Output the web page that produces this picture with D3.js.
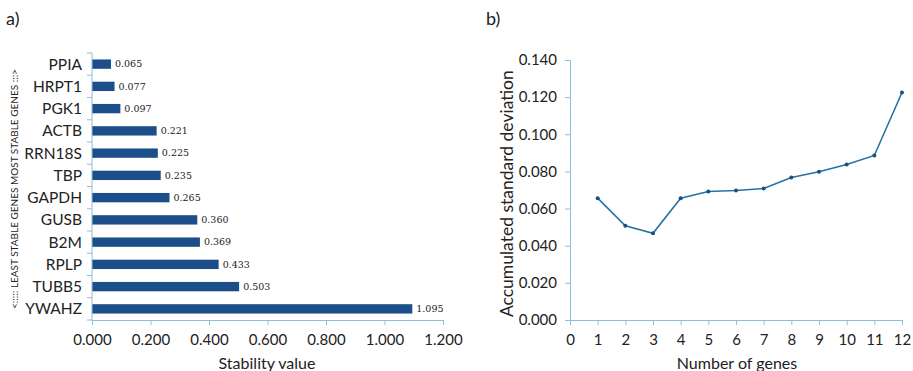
<!DOCTYPE html>
<html>
<head>
<meta charset="utf-8">
<script src="https://cdn.jsdelivr.net/npm/d3@7"></script>
<style>
  body { margin: 0; background: #fff; }
  svg { display: block; }
  text { font-family: Lato, "Open Sans", sans-serif; fill: #222; }
</style>
</head>
<body>
<div id="chart"></div>
<script>
// panel a) stability values, most stable on top
const genes = ["PPIA", "HRPT1", "PGK1", "ACTB", "RRN18S", "TBP", "GAPDH", "GUSB", "B2M", "RPLP", "TUBB5", "YWAHZ"];
const stability = [0.065, 0.077, 0.097, 0.221, 0.225, 0.235, 0.265, 0.360, 0.369, 0.433, 0.503, 1.095];
const stabTicks = [0, 0.2, 0.4, 0.6, 0.8, 1.0, 1.2];

// panel b) accumulated standard deviation
const nGenes = [1, 2, 3, 4, 5, 6, 7, 8, 9, 10, 11, 12];
const accSD = [0.0656, 0.0507, 0.0467, 0.0656, 0.0692, 0.0697, 0.0708, 0.0767, 0.0798, 0.0837, 0.0886, 0.1225];
const sdTicks = [0, 0.02, 0.04, 0.06, 0.08, 0.10, 0.12, 0.14];
const geneTicks = d3.range(0, 13);

const W = 913, H = 371;
const barColor = "#1c4f8a", axisColor = "#8cbfdc", lineColor = "#2672a6";
const tickFont = "15px";

const svg = d3.select("#chart").append("svg")
  .attr("width", W).attr("height", H);

// ---- panel a
const xa = d3.scaleLinear().domain([0, 1.2]).range([92, 443]);
const ya = d3.scaleBand().domain(genes).range([53, 320]).paddingInner(0.58).paddingOuter(0.29);

const ga = svg.append("g");
ga.append("text").attr("x", 6).attr("y", 25).style("font-size", "18px").text("a)");

ga.selectAll("rect.bar")
  .data(genes)
  .join("rect")
  .attr("class", "bar")
  .attr("x", xa(0))
  .attr("y", g => ya(g))
  .attr("width", (g, i) => xa(stability[i]) - xa(0))
  .attr("height", ya.bandwidth())
  .attr("fill", barColor);

ga.selectAll("text.val")
  .data(genes)
  .join("text")
  .attr("class", "val")
  .attr("x", (g, i) => xa(stability[i]) + 4)
  .attr("y", g => ya(g) + ya.bandwidth() / 2)
  .attr("dy", "0.35em")
  .style("font-family", "'DejaVu Serif', serif")
  .style("font-size", "9.5px")
  .text((g, i) => stability[i].toFixed(3));

// y axis of panel a
const yAxisA = ga.append("g").attr("transform", `translate(${xa(0)},0)`);
yAxisA.append("line").attr("y1", 53).attr("y2", 320).attr("stroke", axisColor);
yAxisA.selectAll("line.t")
  .data(d3.range(0, genes.length + 1))
  .join("line")
  .attr("class", "t")
  .attr("x1", -5).attr("x2", 0)
  .attr("y1", i => 53 + i * (267 / genes.length))
  .attr("y2", i => 53 + i * (267 / genes.length))
  .attr("stroke", axisColor);
yAxisA.selectAll("text.g")
  .data(genes)
  .join("text")
  .attr("class", "g")
  .attr("x", -10)
  .attr("y", g => ya(g) + ya.bandwidth() / 2)
  .attr("dy", "0.36em")
  .attr("text-anchor", "end")
  .style("font-size", "15.5px")
  .text(g => g);

// x axis of panel a
const xAxisA = ga.append("g").attr("transform", "translate(0,320)")
  .call(d3.axisBottom(xa).tickValues(stabTicks).tickFormat(d3.format(".3f")).tickSizeOuter(0).tickSize(5));
xAxisA.select(".domain").attr("stroke", axisColor);
xAxisA.selectAll(".tick line").attr("stroke", axisColor);
xAxisA.selectAll(".tick text").attr("y", 14).style("font-size", tickFont).style("font-family", "Lato, sans-serif").attr("fill", "#222");
ga.append("text").attr("x", 267).attr("y", 369).attr("text-anchor", "middle")
  .style("font-size", "16px").text("Stability value");

ga.append("text")
  .attr("transform", "translate(18,189) rotate(-90)")
  .attr("text-anchor", "middle")
  .style("font-size", "10px")
  .text("<::::: LEAST STABLE GENES MOST STABLE GENES :::>");

// ---- panel b
const xb = d3.scaleLinear().domain([0, 12]).range([570, 902]);
const yb = d3.scaleLinear().domain([0, 0.14]).range([320, 60]);

const gb = svg.append("g");
gb.append("text").attr("x", 486).attr("y", 25).style("font-size", "18px").text("b)");

const yAxisB = gb.append("g").attr("transform", `translate(${xb(0)},0)`)
  .call(d3.axisLeft(yb).tickValues(sdTicks).tickFormat(d3.format(".3f")).tickSizeOuter(0).tickSize(5));
yAxisB.select(".domain").attr("stroke", axisColor);
yAxisB.selectAll(".tick line").attr("stroke", axisColor);
yAxisB.selectAll(".tick text").attr("x", -13).style("font-size", tickFont).style("font-family", "Lato, sans-serif").attr("fill", "#222");

const xAxisB = gb.append("g").attr("transform", `translate(0,${yb(0)})`)
  .call(d3.axisBottom(xb).tickValues(geneTicks).tickFormat(d3.format("d")).tickSizeOuter(0).tickSize(5));
xAxisB.select(".domain").attr("stroke", axisColor);
xAxisB.selectAll(".tick line").attr("stroke", axisColor);
xAxisB.selectAll(".tick text").attr("y", 14).style("font-size", tickFont).style("font-family", "Lato, sans-serif").attr("fill", "#222");

gb.append("text").attr("x", 737).attr("y", 369).attr("text-anchor", "middle")
  .style("font-size", "16px").text("Number of genes");
gb.append("text")
  .attr("transform", `translate(513,${yb(0.068)}) rotate(-90)`)
  .attr("text-anchor", "middle")
  .style("font-size", "17.5px")
  .text("Accumulated standard deviation");

const pts = nGenes.map((n, i) => [n, accSD[i]]);
gb.append("path")
  .datum(pts)
  .attr("fill", "none")
  .attr("stroke", lineColor)
  .attr("stroke-width", 1.6)
  .attr("d", d3.line().x(d => xb(d[0])).y(d => yb(d[1])));
gb.selectAll("circle")
  .data(pts)
  .join("circle")
  .attr("cx", d => xb(d[0]))
  .attr("cy", d => yb(d[1]))
  .attr("r", 2)
  .attr("fill", "#1b4f7e");
</script>
</body>
</html>
